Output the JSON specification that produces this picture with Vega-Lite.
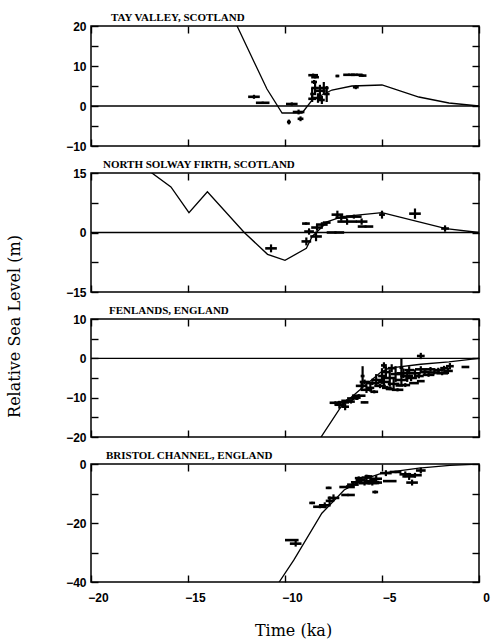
{
  "$schema": "https://vega.github.io/schema/vega-lite/v6.json",
  "padding": {"left": 5, "top": 11, "right": 2, "bottom": 2},
  "background": "white",
  "spacing": 27,
  "bounds": "flush",
  "config": {
    "view": {"stroke": "black", "strokeWidth": 1.5},
    "axis": {
      "domain": false, "grid": false, "ticks": true, "tickColor": "black", "tickOpacity": 1, "tickWidth": 1.4, "tickSize": 7, "offset": -7, "zindex": 1,
      "labelFont": "Liberation Sans", "labelFontWeight": "bold", "labelFontSize": 12, "labelColor": "black",
      "labelPadding": 5, "labelFlush": false, "titleColor": "black"
    },
    "title": {"font": "Liberation Serif", "fontWeight": "bold", "fontSize": 11, "anchor": "start", "color": "black", "offset": -3, "frame": "group"}
  },
  "datasets": {
    "curves": [
      {"s": "tay", "t": -13.6, "h": 31},
      {"s": "tay", "t": -12.47, "h": 20},
      {"s": "tay", "t": -10.93, "h": 4.25},
      {"s": "tay", "t": -10.15, "h": -1.75},
      {"s": "tay", "t": -9.12, "h": -1.75},
      {"s": "tay", "t": -8.6, "h": 1.5},
      {"s": "tay", "t": -7.58, "h": 4},
      {"s": "tay", "t": -6.55, "h": 5},
      {"s": "tay", "t": -5.0, "h": 5.25},
      {"s": "tay", "t": -3.1, "h": 2.25},
      {"s": "tay", "t": -1.55, "h": 0.75},
      {"s": "tay", "t": 0, "h": 0},
      {"s": "sol", "t": -17.5, "h": 18.5},
      {"s": "sol", "t": -16.86, "h": 15},
      {"s": "sol", "t": -15.88, "h": 11.5},
      {"s": "sol", "t": -14.95, "h": 5},
      {"s": "sol", "t": -14.0, "h": 10.25},
      {"s": "sol", "t": -12.1, "h": 0},
      {"s": "sol", "t": -10.9, "h": -5.5},
      {"s": "sol", "t": -10.0, "h": -7},
      {"s": "sol", "t": -8.9, "h": -4},
      {"s": "sol", "t": -8.6, "h": -1},
      {"s": "sol", "t": -7.8, "h": 2.75},
      {"s": "sol", "t": -7.05, "h": 4},
      {"s": "sol", "t": -5.0, "h": 5},
      {"s": "sol", "t": -1.7, "h": 1},
      {"s": "sol", "t": 0, "h": 0},
      {"s": "fen", "t": -8.3, "h": -23},
      {"s": "fen", "t": -8.14, "h": -20},
      {"s": "fen", "t": -7.06, "h": -11.9},
      {"s": "fen", "t": -6.0, "h": -7.4},
      {"s": "fen", "t": -5.05, "h": -3.5},
      {"s": "fen", "t": -4.64, "h": -2.5},
      {"s": "fen", "t": -3.0, "h": -1.5},
      {"s": "fen", "t": -1.55, "h": -0.9},
      {"s": "fen", "t": 0, "h": 0},
      {"s": "bri", "t": -10.5, "h": -42},
      {"s": "bri", "t": -10.3, "h": -40},
      {"s": "bri", "t": -9.54, "h": -32.5},
      {"s": "bri", "t": -8.1, "h": -16.7},
      {"s": "bri", "t": -6.95, "h": -8.8},
      {"s": "bri", "t": -6.03, "h": -5.4},
      {"s": "bri", "t": -5.0, "h": -3.1},
      {"s": "bri", "t": -3.1, "h": -1.4},
      {"s": "bri", "t": -1.5, "h": -0.5},
      {"s": "bri", "t": 0, "h": 0}
    ],
    "obs": [
      {"s": "tay", "t": -11.6, "h": 2.3, "dt": 0.3, "dh": 0.5},
      {"s": "tay", "t": -11.15, "h": 0.8, "dt": 0.35, "dh": 0.3},
      {"s": "tay", "t": -9.8, "h": -4.0, "dt": 0.1, "dh": 0.6},
      {"s": "tay", "t": -9.65, "h": 0.5, "dt": 0.3, "dh": 0.4},
      {"s": "tay", "t": -9.3, "h": -1.5, "dt": 0.3, "dh": 0.6},
      {"s": "tay", "t": -9.2, "h": -3.2, "dt": 0.15, "dh": 0.6},
      {"s": "tay", "t": -8.55, "h": 7.7, "dt": 0.25, "dh": 0.4},
      {"s": "tay", "t": -8.45, "h": 7.2, "dt": 0.2, "dh": 0.3},
      {"s": "tay", "t": -8.5, "h": 6.0, "dt": 0.15, "dh": 0.5},
      {"s": "tay", "t": -8.6, "h": 3.0, "dt": 0.1, "dh": 1.5},
      {"s": "tay", "t": -8.45, "h": 4.5, "dt": 0.2, "dh": 1.8},
      {"s": "tay", "t": -8.3, "h": 2.0, "dt": 0.25, "dh": 1.2},
      {"s": "tay", "t": -8.2, "h": 3.8, "dt": 0.3, "dh": 1.5},
      {"s": "tay", "t": -8.1, "h": 1.5, "dt": 0.15, "dh": 1.0},
      {"s": "tay", "t": -8.0, "h": 4.5, "dt": 0.25, "dh": 1.5},
      {"s": "tay", "t": -7.85, "h": 3.0, "dt": 0.15, "dh": 2.0},
      {"s": "tay", "t": -7.3, "h": 7.5, "dt": 0.1, "dh": 0.3},
      {"s": "tay", "t": -6.7, "h": 7.8, "dt": 0.3, "dh": 0.3},
      {"s": "tay", "t": -6.3, "h": 7.8, "dt": 0.3, "dh": 0.3},
      {"s": "tay", "t": -6.0, "h": 7.6, "dt": 0.2, "dh": 0.3},
      {"s": "tay", "t": -6.35, "h": 4.7, "dt": 0.15, "dh": 0.5},
      {"s": "tay", "t": -8.6, "h": 1.8, "dt": 0.2, "dh": 0.8},
      {"s": "sol", "t": -10.72, "h": -4.0, "dt": 0.3, "dh": 1.0},
      {"s": "sol", "t": -8.92, "h": 2.25, "dt": 0.2, "dh": 0.3},
      {"s": "sol", "t": -8.76, "h": 0.25, "dt": 0.25, "dh": 0.8},
      {"s": "sol", "t": -8.9, "h": -2.25, "dt": 0.25, "dh": 1.0},
      {"s": "sol", "t": -8.4, "h": -1.0, "dt": 0.3, "dh": 1.2},
      {"s": "sol", "t": -8.35, "h": 1.25, "dt": 0.3, "dh": 0.8},
      {"s": "sol", "t": -8.1, "h": 2.0, "dt": 0.3, "dh": 0.6},
      {"s": "sol", "t": -7.85, "h": 2.5, "dt": 0.2, "dh": 0.3},
      {"s": "sol", "t": -7.4, "h": 0.0, "dt": 0.45, "dh": 0.3},
      {"s": "sol", "t": -7.3, "h": 4.5, "dt": 0.3, "dh": 1.0},
      {"s": "sol", "t": -7.1, "h": 3.75, "dt": 0.3, "dh": 0.8},
      {"s": "sol", "t": -6.8, "h": 2.75, "dt": 0.5, "dh": 0.8},
      {"s": "sol", "t": -6.45, "h": 4.0, "dt": 0.4, "dh": 0.5},
      {"s": "sol", "t": -6.05, "h": 2.75, "dt": 0.3, "dh": 0.8},
      {"s": "sol", "t": -5.85, "h": 1.5, "dt": 0.4, "dh": 0.3},
      {"s": "sol", "t": -5.0, "h": 4.5, "dt": 0.15, "dh": 1.0},
      {"s": "sol", "t": -3.3, "h": 4.75, "dt": 0.3, "dh": 1.3},
      {"s": "sol", "t": -1.75, "h": 1.0, "dt": 0.2, "dh": 0.8},
      {"s": "fen", "t": -7.4, "h": -11.3, "dt": 0.3, "dh": 0.4},
      {"s": "fen", "t": -7.2, "h": -11.8, "dt": 0.25, "dh": 1.0},
      {"s": "fen", "t": -7.0, "h": -11.2, "dt": 0.3, "dh": 0.5},
      {"s": "fen", "t": -6.9, "h": -12.3, "dt": 0.2, "dh": 0.9},
      {"s": "fen", "t": -6.8, "h": -10.8, "dt": 0.3, "dh": 0.4},
      {"s": "fen", "t": -6.6, "h": -11.0, "dt": 0.2, "dh": 0.5},
      {"s": "fen", "t": -6.5, "h": -10.2, "dt": 0.3, "dh": 0.4},
      {"s": "fen", "t": -6.3, "h": -10.0, "dt": 0.2, "dh": 0.6},
      {"s": "fen", "t": -5.9, "h": -11.2, "dt": 0.2, "dh": 0.2},
      {"s": "fen", "t": -6.2, "h": -9.5, "dt": 0.35, "dh": 0.4},
      {"s": "fen", "t": -6.0, "h": -4.5, "dt": 0.1, "dh": 2.5},
      {"s": "fen", "t": -6.05, "h": -7.0, "dt": 0.3, "dh": 1.2},
      {"s": "fen", "t": -5.8, "h": -8.0, "dt": 0.3, "dh": 0.8},
      {"s": "fen", "t": -5.9, "h": -6.0, "dt": 0.25, "dh": 0.6},
      {"s": "fen", "t": -5.6, "h": -7.5, "dt": 0.2, "dh": 1.0},
      {"s": "fen", "t": -5.5, "h": -6.3, "dt": 0.35, "dh": 0.5},
      {"s": "fen", "t": -5.4, "h": -8.5, "dt": 0.2, "dh": 0.4},
      {"s": "fen", "t": -5.3, "h": -5.5, "dt": 0.25, "dh": 1.5},
      {"s": "fen", "t": -5.1, "h": -7.0, "dt": 0.3, "dh": 0.6},
      {"s": "fen", "t": -5.0, "h": -4.5, "dt": 0.2, "dh": 2.0},
      {"s": "fen", "t": -4.9, "h": -6.0, "dt": 0.3, "dh": 1.8},
      {"s": "fen", "t": -4.8, "h": -3.5, "dt": 0.2, "dh": 1.5},
      {"s": "fen", "t": -4.75, "h": -7.5, "dt": 0.25, "dh": 0.5},
      {"s": "fen", "t": -4.6, "h": -5.0, "dt": 0.3, "dh": 2.2},
      {"s": "fen", "t": -4.5, "h": -2.5, "dt": 0.2, "dh": 1.0},
      {"s": "fen", "t": -4.4, "h": -6.5, "dt": 0.3, "dh": 1.5},
      {"s": "fen", "t": -4.3, "h": -4.0, "dt": 0.25, "dh": 2.0},
      {"s": "fen", "t": -4.2, "h": -8.0, "dt": 0.3, "dh": 0.4},
      {"s": "fen", "t": -4.0, "h": -2.4, "dt": 0.1, "dh": 2.4},
      {"s": "fen", "t": -4.0, "h": -5.5, "dt": 0.3, "dh": 1.5},
      {"s": "fen", "t": -3.9, "h": -3.8, "dt": 0.35, "dh": 1.2},
      {"s": "fen", "t": -3.8, "h": -6.8, "dt": 0.25, "dh": 0.5},
      {"s": "fen", "t": -3.7, "h": -4.5, "dt": 0.3, "dh": 1.5},
      {"s": "fen", "t": -3.6, "h": -3.0, "dt": 0.25, "dh": 1.0},
      {"s": "fen", "t": -3.5, "h": -5.0, "dt": 0.3, "dh": 0.8},
      {"s": "fen", "t": -3.35, "h": -6.3, "dt": 0.25, "dh": 0.2},
      {"s": "fen", "t": -3.3, "h": -3.8, "dt": 0.3, "dh": 1.0},
      {"s": "fen", "t": -3.1, "h": -4.5, "dt": 0.25, "dh": 0.6},
      {"s": "fen", "t": -3.0, "h": -2.8, "dt": 0.3, "dh": 0.8},
      {"s": "fen", "t": -3.0, "h": -5.8, "dt": 0.2, "dh": 0.2},
      {"s": "fen", "t": -3.0, "h": 0.6, "dt": 0.2, "dh": 0.8},
      {"s": "fen", "t": -2.8, "h": -3.5, "dt": 0.25, "dh": 0.8},
      {"s": "fen", "t": -2.6, "h": -4.2, "dt": 0.3, "dh": 0.5},
      {"s": "fen", "t": -2.5, "h": -2.8, "dt": 0.25, "dh": 0.6},
      {"s": "fen", "t": -2.3, "h": -3.6, "dt": 0.3, "dh": 0.5},
      {"s": "fen", "t": -2.1, "h": -3.0, "dt": 0.25, "dh": 0.6},
      {"s": "fen", "t": -1.9, "h": -3.8, "dt": 0.3, "dh": 0.5},
      {"s": "fen", "t": -1.8, "h": -2.5, "dt": 0.2, "dh": 0.6},
      {"s": "fen", "t": -1.6, "h": -3.2, "dt": 0.25, "dh": 0.8},
      {"s": "fen", "t": -1.5, "h": -2.0, "dt": 0.2, "dh": 0.8},
      {"s": "fen", "t": -0.7, "h": -2.2, "dt": 0.2, "dh": 0.2},
      {"s": "fen", "t": -4.6, "h": -7.8, "dt": 0.2, "dh": 0.3},
      {"s": "fen", "t": -4.1, "h": -6.9, "dt": 0.2, "dh": 0.2},
      {"s": "fen", "t": -4.9, "h": -1.8, "dt": 0.15, "dh": 0.8},
      {"s": "bri", "t": -9.65, "h": -25.8, "dt": 0.35, "dh": 0.3},
      {"s": "bri", "t": -9.45, "h": -27.0, "dt": 0.3, "dh": 1.0},
      {"s": "bri", "t": -8.6, "h": -13.2, "dt": 0.15, "dh": 0.4},
      {"s": "bri", "t": -8.2, "h": -14.5, "dt": 0.35, "dh": 0.5},
      {"s": "bri", "t": -7.95, "h": -14.0, "dt": 0.3, "dh": 1.0},
      {"s": "bri", "t": -7.7, "h": -12.5, "dt": 0.2, "dh": 1.5},
      {"s": "bri", "t": -7.5, "h": -11.5, "dt": 0.3, "dh": 1.2},
      {"s": "bri", "t": -7.75, "h": -8.1, "dt": 0.15, "dh": 0.4},
      {"s": "bri", "t": -6.75, "h": -10.5, "dt": 0.35, "dh": 0.4},
      {"s": "bri", "t": -6.8, "h": -7.8, "dt": 0.4, "dh": 0.6},
      {"s": "bri", "t": -6.5, "h": -7.0, "dt": 0.3, "dh": 0.8},
      {"s": "bri", "t": -6.3, "h": -6.2, "dt": 0.3, "dh": 0.8},
      {"s": "bri", "t": -6.1, "h": -5.5, "dt": 0.25, "dh": 1.0},
      {"s": "bri", "t": -5.9, "h": -6.5, "dt": 0.3, "dh": 0.8},
      {"s": "bri", "t": -5.8, "h": -4.6, "dt": 0.25, "dh": 1.0},
      {"s": "bri", "t": -5.6, "h": -5.8, "dt": 0.3, "dh": 1.0},
      {"s": "bri", "t": -5.5, "h": -6.5, "dt": 0.25, "dh": 0.8},
      {"s": "bri", "t": -5.35, "h": -9.5, "dt": 0.15, "dh": 0.5},
      {"s": "bri", "t": -5.3, "h": -5.0, "dt": 0.3, "dh": 1.2},
      {"s": "bri", "t": -5.2, "h": -6.3, "dt": 0.2, "dh": 0.6},
      {"s": "bri", "t": -4.8, "h": -3.1, "dt": 0.3, "dh": 1.0},
      {"s": "bri", "t": -4.6, "h": -5.8, "dt": 0.35, "dh": 0.3},
      {"s": "bri", "t": -4.3, "h": -2.7, "dt": 0.3, "dh": 0.4},
      {"s": "bri", "t": -3.8, "h": -3.5, "dt": 0.3, "dh": 1.0},
      {"s": "bri", "t": -3.6, "h": -4.2, "dt": 0.35, "dh": 1.2},
      {"s": "bri", "t": -3.45, "h": -6.3, "dt": 0.3, "dh": 1.0},
      {"s": "bri", "t": -3.3, "h": -3.8, "dt": 0.35, "dh": 0.8},
      {"s": "bri", "t": -3.0, "h": -2.2, "dt": 0.25, "dh": 1.0},
      {"s": "bri", "t": -6.2, "h": -4.8, "dt": 0.2, "dh": 0.6},
      {"s": "bri", "t": -5.7, "h": -4.2, "dt": 0.2, "dh": 0.5}
    ]
  },
  "vconcat": [
    {
      "width": 388, "height": 120,
      "title": {"text": "TAY VALLEY, SCOTLAND", "dx": 20},
      "resolve": {"axis": {"x": "independent", "y": "independent"}},
      "layer": [
        {
          "data": {"name": "curves"}, "transform": [{"filter": "datum.s == 'tay'"}],
          "mark": {"type": "line", "clip": true, "color": "black", "strokeWidth": 1.3},
          "encoding": {
            "x": {"field": "t", "type": "quantitative", "scale": {"domain": [-20, 0], "nice": false}, "axis": {"orient": "bottom", "values": [-20, -15, -10, -5, 0], "labels": false, "ticks": true, "tickSize": 7, "offset": -7, "title": null}},
            "y": {"field": "h", "type": "quantitative", "scale": {"domain": [-10, 20], "nice": false, "zero": false}, "axis": {"orient": "left", "values": [-10, -5, 0, 5, 10, 15, 20], "labelExpr": "datum.value % 10 == 0 ? datum.label : ''", "ticks": true, "tickSize": 7, "offset": -7, "title": null}}
          }
        },
        {
          "data": {"name": "obs"}, "transform": [{"filter": "datum.s == 'tay'"}],
          "mark": {"type": "point", "opacity": 0},
          "encoding": {
            "x": {"field": "t", "type": "quantitative", "scale": {"domain": [-20, 0], "nice": false}, "axis": {"orient": "top", "values": [-20, -15, -10, -5, 0], "labels": false, "ticks": true, "tickSize": 7, "offset": -7, "title": null}},
            "y": {"field": "h", "type": "quantitative", "scale": {"domain": [-10, 20], "nice": false, "zero": false}, "axis": {"orient": "right", "values": [-10, -5, 0, 5, 10, 15, 20], "labels": false, "ticks": true, "tickSize": 7, "offset": -7, "title": null}}
          }
        },
        {
          "data": {"values": [{}]},
          "mark": {"type": "rule", "color": "black", "strokeWidth": 1.3},
          "encoding": {"y": {"datum": 0, "type": "quantitative", "scale": {"domain": [-10, 20], "nice": false, "zero": false}, "axis": null}}
        },
        {
          "data": {"name": "obs"}, "transform": [{"filter": "datum.s == 'tay'"}],
          "mark": {"type": "errorbar", "ticks": false, "thickness": 2.6, "color": "black"},
          "encoding": {
            "x": {"field": "t", "type": "quantitative", "scale": {"domain": [-20, 0], "nice": false}, "axis": null},
            "xError": {"field": "dt"},
            "y": {"field": "h", "type": "quantitative", "scale": {"domain": [-10, 20], "nice": false, "zero": false}, "axis": null}
          }
        },
        {
          "data": {"name": "obs"}, "transform": [{"filter": "datum.s == 'tay'"}],
          "mark": {"type": "errorbar", "ticks": false, "thickness": 2.2, "color": "black"},
          "encoding": {
            "x": {"field": "t", "type": "quantitative", "scale": {"domain": [-20, 0], "nice": false}, "axis": null},
            "y": {"field": "h", "type": "quantitative", "scale": {"domain": [-10, 20], "nice": false, "zero": false}, "axis": null},
            "yError": {"field": "dh"}
          }
        }
      ]
    },
    {
      "width": 388, "height": 119,
      "title": {"text": "NORTH SOLWAY FIRTH, SCOTLAND", "dx": 12},
      "resolve": {"axis": {"x": "independent", "y": "independent"}},
      "layer": [
        {
          "data": {"name": "curves"}, "transform": [{"filter": "datum.s == 'sol'"}],
          "mark": {"type": "line", "clip": true, "color": "black", "strokeWidth": 1.3},
          "encoding": {
            "x": {"field": "t", "type": "quantitative", "scale": {"domain": [-20, 0], "nice": false}, "axis": {"orient": "bottom", "values": [-20, -15, -10, -5, 0], "labels": false, "ticks": true, "tickSize": 7, "offset": -7, "title": null}},
            "y": {"field": "h", "type": "quantitative", "scale": {"domain": [-15, 15], "nice": false, "zero": false}, "axis": {"orient": "left", "values": [-15, -7.5, 0, 7.5, 15], "labelExpr": "datum.value % 15 == 0 ? datum.label : ''", "ticks": true, "tickSize": 7, "offset": -7, "title": "Relative Sea Level (m)", "titleFont": "DejaVu Serif", "titleFontSize": 16, "titleFontWeight": "normal", "titleAngle": 270, "titleBaseline": "top", "titleAlign": "center", "titleX": -92, "titleY": 153}}
          }
        },
        {
          "data": {"name": "obs"}, "transform": [{"filter": "datum.s == 'sol'"}],
          "mark": {"type": "point", "opacity": 0},
          "encoding": {
            "x": {"field": "t", "type": "quantitative", "scale": {"domain": [-20, 0], "nice": false}, "axis": {"orient": "top", "values": [-20, -15, -10, -5, 0], "labels": false, "ticks": true, "tickSize": 7, "offset": -7, "title": null}},
            "y": {"field": "h", "type": "quantitative", "scale": {"domain": [-15, 15], "nice": false, "zero": false}, "axis": {"orient": "right", "values": [-15, -7.5, 0, 7.5, 15], "labels": false, "ticks": true, "tickSize": 7, "offset": -7, "title": null}}
          }
        },
        {
          "data": {"values": [{}]},
          "mark": {"type": "rule", "color": "black", "strokeWidth": 1.3},
          "encoding": {"y": {"datum": 0, "type": "quantitative", "scale": {"domain": [-15, 15], "nice": false, "zero": false}, "axis": null}}
        },
        {
          "data": {"name": "obs"}, "transform": [{"filter": "datum.s == 'sol'"}],
          "mark": {"type": "errorbar", "ticks": false, "thickness": 2.6, "color": "black"},
          "encoding": {
            "x": {"field": "t", "type": "quantitative", "scale": {"domain": [-20, 0], "nice": false}, "axis": null},
            "xError": {"field": "dt"},
            "y": {"field": "h", "type": "quantitative", "scale": {"domain": [-15, 15], "nice": false, "zero": false}, "axis": null}
          }
        },
        {
          "data": {"name": "obs"}, "transform": [{"filter": "datum.s == 'sol'"}],
          "mark": {"type": "errorbar", "ticks": false, "thickness": 2.2, "color": "black"},
          "encoding": {
            "x": {"field": "t", "type": "quantitative", "scale": {"domain": [-20, 0], "nice": false}, "axis": null},
            "y": {"field": "h", "type": "quantitative", "scale": {"domain": [-15, 15], "nice": false, "zero": false}, "axis": null},
            "yError": {"field": "dh"}
          }
        }
      ]
    },
    {
      "width": 388, "height": 118,
      "title": {"text": "FENLANDS, ENGLAND", "dx": 18},
      "resolve": {"axis": {"x": "independent", "y": "independent"}},
      "layer": [
        {
          "data": {"name": "curves"}, "transform": [{"filter": "datum.s == 'fen'"}],
          "mark": {"type": "line", "clip": true, "color": "black", "strokeWidth": 1.3},
          "encoding": {
            "x": {"field": "t", "type": "quantitative", "scale": {"domain": [-20, 0], "nice": false}, "axis": {"orient": "bottom", "values": [-20, -15, -10, -5, 0], "labels": false, "ticks": true, "tickSize": 7, "offset": -7, "title": null}},
            "y": {"field": "h", "type": "quantitative", "scale": {"domain": [-20, 10], "nice": false, "zero": false}, "axis": {"orient": "left", "values": [-20, -15, -10, -5, 0, 5, 10], "labelExpr": "datum.value % 10 == 0 ? datum.label : ''", "ticks": true, "tickSize": 7, "offset": -7, "title": null}}
          }
        },
        {
          "data": {"name": "obs"}, "transform": [{"filter": "datum.s == 'fen'"}],
          "mark": {"type": "point", "opacity": 0},
          "encoding": {
            "x": {"field": "t", "type": "quantitative", "scale": {"domain": [-20, 0], "nice": false}, "axis": {"orient": "top", "values": [-20, -15, -10, -5, 0], "labels": false, "ticks": true, "tickSize": 7, "offset": -7, "title": null}},
            "y": {"field": "h", "type": "quantitative", "scale": {"domain": [-20, 10], "nice": false, "zero": false}, "axis": {"orient": "right", "values": [-20, -15, -10, -5, 0, 5, 10], "labels": false, "ticks": true, "tickSize": 7, "offset": -7, "title": null}}
          }
        },
        {
          "data": {"values": [{}]},
          "mark": {"type": "rule", "color": "black", "strokeWidth": 1.3},
          "encoding": {"y": {"datum": 0, "type": "quantitative", "scale": {"domain": [-20, 10], "nice": false, "zero": false}, "axis": null}}
        },
        {
          "data": {"name": "obs"}, "transform": [{"filter": "datum.s == 'fen'"}],
          "mark": {"type": "errorbar", "ticks": false, "thickness": 2.6, "color": "black"},
          "encoding": {
            "x": {"field": "t", "type": "quantitative", "scale": {"domain": [-20, 0], "nice": false}, "axis": null},
            "xError": {"field": "dt"},
            "y": {"field": "h", "type": "quantitative", "scale": {"domain": [-20, 10], "nice": false, "zero": false}, "axis": null}
          }
        },
        {
          "data": {"name": "obs"}, "transform": [{"filter": "datum.s == 'fen'"}],
          "mark": {"type": "errorbar", "ticks": false, "thickness": 2.2, "color": "black"},
          "encoding": {
            "x": {"field": "t", "type": "quantitative", "scale": {"domain": [-20, 0], "nice": false}, "axis": null},
            "y": {"field": "h", "type": "quantitative", "scale": {"domain": [-20, 10], "nice": false, "zero": false}, "axis": null},
            "yError": {"field": "dh"}
          }
        }
      ]
    },
    {
      "width": 388, "height": 118,
      "title": {"text": "BRISTOL CHANNEL, ENGLAND", "dx": 15},
      "resolve": {"axis": {"x": "independent", "y": "independent"}},
      "layer": [
        {
          "data": {"name": "curves"}, "transform": [{"filter": "datum.s == 'bri'"}],
          "mark": {"type": "line", "clip": true, "color": "black", "strokeWidth": 1.3},
          "encoding": {
            "x": {"field": "t", "type": "quantitative", "scale": {"domain": [-20, 0], "nice": false}, "axis": {"orient": "bottom", "values": [-20, -15, -10, -5, 0], "labelOffset": 7, "labelPadding": 10, "labelFlush": false, "ticks": true, "tickSize": 7, "offset": -7, "title": "Time (ka)", "titleFont": "DejaVu Serif", "titleFontSize": 16, "titleFontWeight": "normal", "titleX": 202, "titleY": 60, "titleBaseline": "alphabetic"}},
            "y": {"field": "h", "type": "quantitative", "scale": {"domain": [-40, 0], "nice": false, "zero": false}, "axis": {"orient": "left", "values": [-40, -30, -20, -10, 0], "labelExpr": "datum.value % 20 == 0 ? datum.label : ''", "ticks": true, "tickSize": 7, "offset": -7, "title": null}}
          }
        },
        {
          "data": {"name": "obs"}, "transform": [{"filter": "datum.s == 'bri'"}],
          "mark": {"type": "point", "opacity": 0},
          "encoding": {
            "x": {"field": "t", "type": "quantitative", "scale": {"domain": [-20, 0], "nice": false}, "axis": {"orient": "top", "values": [-20, -15, -10, -5, 0], "labels": false, "ticks": true, "tickSize": 7, "offset": -7, "title": null}},
            "y": {"field": "h", "type": "quantitative", "scale": {"domain": [-40, 0], "nice": false, "zero": false}, "axis": {"orient": "right", "values": [-40, -30, -20, -10, 0], "labels": false, "ticks": true, "tickSize": 7, "offset": -7, "title": null}}
          }
        },
        {
          "data": {"name": "obs"}, "transform": [{"filter": "datum.s == 'bri'"}],
          "mark": {"type": "errorbar", "ticks": false, "thickness": 2.6, "color": "black"},
          "encoding": {
            "x": {"field": "t", "type": "quantitative", "scale": {"domain": [-20, 0], "nice": false}, "axis": null},
            "xError": {"field": "dt"},
            "y": {"field": "h", "type": "quantitative", "scale": {"domain": [-40, 0], "nice": false, "zero": false}, "axis": null}
          }
        },
        {
          "data": {"name": "obs"}, "transform": [{"filter": "datum.s == 'bri'"}],
          "mark": {"type": "errorbar", "ticks": false, "thickness": 2.2, "color": "black"},
          "encoding": {
            "x": {"field": "t", "type": "quantitative", "scale": {"domain": [-20, 0], "nice": false}, "axis": null},
            "y": {"field": "h", "type": "quantitative", "scale": {"domain": [-40, 0], "nice": false, "zero": false}, "axis": null},
            "yError": {"field": "dh"}
          }
        }
      ]
    }
  ]
}
